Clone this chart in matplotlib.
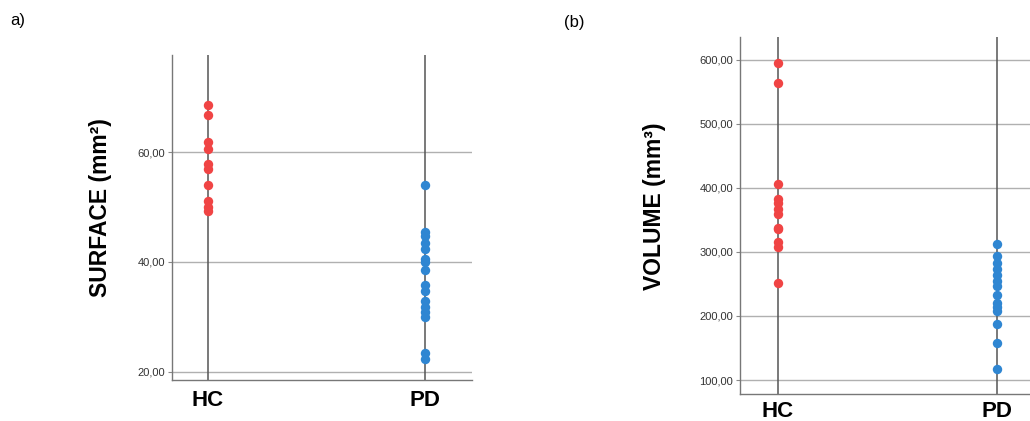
import matplotlib.pyplot as plt

plt.rcParams['font.family'] = ['Liberation Sans', 'DejaVu Sans']

groups = ['HC', 'PD']
red = '#f04444'
blue = '#2f86d2'

surface_hc = [68.6, 66.7, 61.8, 60.6, 57.9, 56.9, 54.1, 51.1, 50.0, 49.2]
surface_pd = [54.1, 45.4, 44.8, 43.5, 42.4, 40.6, 40.0, 38.6, 35.8, 34.7,
              32.8, 31.8, 30.9, 30.0, 23.5, 22.3]

volume_hc = [595.3, 564.1, 405.8, 382.4, 375.6, 367.3, 359.0, 337.5, 335.0,
             314.7, 307.8, 250.7]
volume_pd = [312.5, 293.3, 283.4, 273.5, 264.6, 254.7, 246.4, 233.4, 220.4,
             214.1, 207.8, 187.5, 157.9, 117.6]

surface_ticks = [20, 40, 60]
volume_ticks = [100, 200, 300, 400, 500, 600]

fig = plt.figure(figsize=(10.30, 4.21), dpi=100)
ax1 = fig.add_axes([172 / 1030, 41 / 421, 300 / 1030, 325 / 421])
ax2 = fig.add_axes([740 / 1030, 26.7 / 421, 290 / 1030, 357 / 421])


def style(ax, hc, pd, ticks, ylim, xlim, pad):
    for x in range(len(groups)):
        ax.axvline(x, color='#555555', lw=1.1, zorder=1)
    for t in ticks:
        ax.axhline(t, color='#b0b0b0', lw=1.0, zorder=0)
    ax.scatter([0] * len(hc), hc, s=46, color=red, zorder=3, linewidths=0)
    ax.scatter([1] * len(pd), pd, s=46, color=blue, zorder=3, linewidths=0)
    ax.set_xlim(*xlim)
    ax.set_ylim(*ylim)
    ax.set_xticks(range(len(groups)))
    ax.set_xticklabels(groups, fontsize=16, fontweight='bold')
    ax.set_yticks(ticks)
    ax.set_yticklabels([f'{t:.2f}'.replace('.', ',') for t in ticks],
                       fontsize=8, color='#333333')
    ax.tick_params(axis='x', length=0, pad=pad)
    ax.tick_params(axis='y', length=3, width=0.8, color='#888888', pad=2)
    for s in ['top', 'right']:
        ax.spines[s].set_visible(False)
    for s in ['left', 'bottom']:
        ax.spines[s].set_color('#777777')
        ax.spines[s].set_linewidth(1.0)


style(ax1, surface_hc, surface_pd, surface_ticks, (18.5, 77.7), (-0.164, 1.215), 7)
style(ax2, volume_hc, volume_pd, volume_ticks, (77.7, 635), (-0.172, 1.149), 5)

fig.text(100 / 1030, 1 - 208 / 421, 'SURFACE (mm²)', rotation=90, ha='center',
         va='center', fontsize=16.5, fontweight='bold')
fig.text(655 / 1030, 1 - 206 / 421, 'VOLUME (mm³)', rotation=90, ha='center',
         va='center', fontsize=16.5, fontweight='bold')
fig.text(10 / 1030, 1 - 21 / 421, 'a)', ha='left', va='center', fontsize=12)
fig.text(564 / 1030, 1 - 23 / 421, '(b)', ha='left', va='center', fontsize=12)

fig.savefig('out.png', dpi=100)
